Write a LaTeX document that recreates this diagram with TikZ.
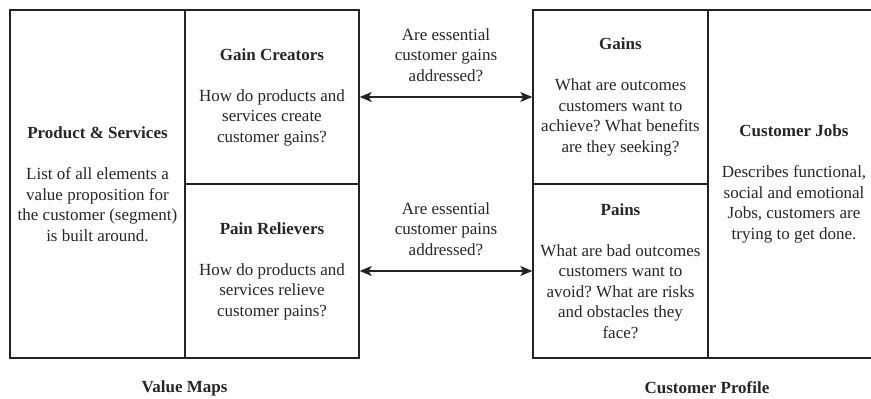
\documentclass[tikz,border=0pt]{standalone}
\usepackage{fontspec}
\setmainfont{Liberation Serif}
\usetikzlibrary{arrows.meta,positioning}
\definecolor{linegray}{RGB}{34,34,34}
\definecolor{textgray}{RGB}{38,38,38}
\frenchspacing

\begin{document}
\begin{tikzpicture}[
  x=1pt,y=-1pt,
  font=\rmfamily\fontsize{17}{20.5}\selectfont,
  block/.style={draw=linegray,line width=1.4pt,minimum width=175pt,minimum height=174pt,inner sep=0pt,align=center,text=textgray},
  tall/.style={block,minimum height=348pt},
  arr/.style={{Stealth[length=12pt,width=10pt,inset=3pt]}-{Stealth[length=12pt,width=10pt,inset=3pt]},line width=1.2pt,color=linegray},
  note/.style={align=center,text=textgray},
  caption/.style={font=\rmfamily\fontsize{17}{20.5}\selectfont\bfseries,text=textgray},
]
\useasboundingbox (0,0) rectangle (871,399);
\clip (0,0) rectangle (871,399);

% Value Maps
\node[tall] (prod) at (97.5,184) {\textbf{Product \& Services}\\[20.5pt]List of all elements a\\value proposition for\\the customer (segment)\\is built around.};
\node[block,minimum width=174pt] (gaincr) at (272,97) {\textbf{Gain Creators}\\[20.5pt]How do products and\\services create\\customer gains?};
\node[block,minimum width=174pt] (painrel) at (272,271) {\textbf{Pain Relievers}\\[20.5pt]How do products and\\services relieve\\customer pains?};
\node[caption] (vmap) at (184.5,388) {Value Maps};

% Customer Profile
\node[block] (gains) at (620.5,97) {\textbf{Gains}\\[20.5pt]What are outcomes\\customers want to\\achieve? What benefits\\are they seeking?};
\node[block] (pains) at (620.5,271) {\textbf{Pains}\\[20.5pt]What are bad outcomes\\customers want to\\avoid? What are risks\\and obstacles they\\face?};
\node[tall,minimum width=172pt] (jobs) at (794,184) {\textbf{Customer Jobs}\\[20.5pt]Describes functional,\\social and emotional\\Jobs, customers are\\trying to get done.};
\node[caption] (cprof) at (707,388) {Customer Profile};

% Fit
\node[note] (qgains) at (446,55) {Are essential\\customer gains\\addressed?};
\node[note] (qpains) at (446,229) {Are essential\\customer pains\\addressed?};
\draw[arr] (gaincr.east) -- (gains.west);
\draw[arr] (painrel.east) -- (pains.west);

\end{tikzpicture}
\end{document}
